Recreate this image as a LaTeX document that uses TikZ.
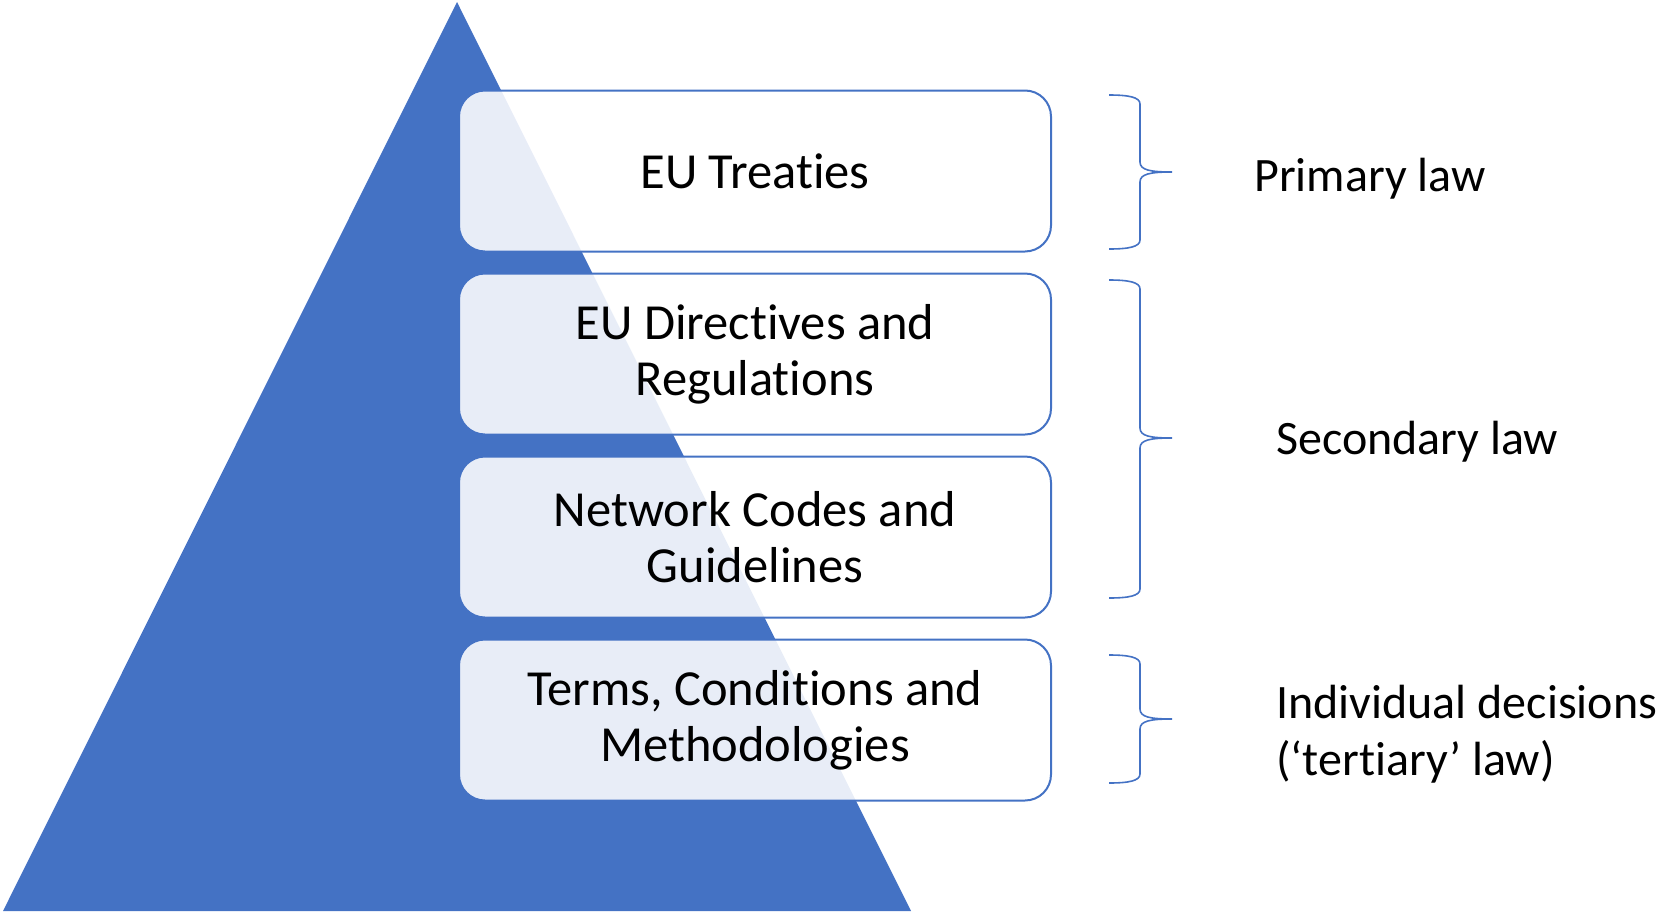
\documentclass[tikz,border=0pt]{standalone}
\usepackage{fontspec}
\setmainfont{Carlito}[Ligatures=NoCommon, RawFeature={-liga;-clig;-calt;-dlig}]
\definecolor{accent}{HTML}{4472C4}
\newcommand\nolig{\kern0pt{}}
\newcommand\lawbrace[4]{% name, top y, mid y, bottom y
  \coordinate (#1top) at (1109,#2);
  \coordinate (#1tip) at (1172,#3);
  \coordinate (#1bot) at (1109,#4);
  \draw[bracestyle] (#1top) .. controls (1128,#2) and (1140,#2+2) .. (1140,#2+9)
    -- (1140,#3-10) .. controls (1140,#3-2) and (1150,#3) .. (#1tip)
    .. controls (1150,#3) and (1140,#3+2) .. (1140,#3+10)
    -- (1140,#4-9) .. controls (1140,#4-2) and (1128,#4) .. (#1bot);
}
\tikzset{
  lawbox/.style={draw=accent, line width=2pt, fill=white, fill opacity=0.88,
    text opacity=1, rounded corners=26pt, minimum width=592pt, minimum height=161pt,
    align=center, inner sep=0pt, font=\fontsize{50.5}{56}\selectfont},
  lawlabel/.style={anchor=west, align=left, inner sep=0pt, font=\fontsize{48}{57}\selectfont},
  bracestyle/.style={draw=accent, line width=1.6pt},
}
\begin{document}
\begin{tikzpicture}[x=1pt,y=-1pt]
\useasboundingbox (0,0) rectangle (1658,911);
\fill[accent] (457,2) -- (911,911) -- (3,911) -- cycle;
\node[lawbox] (b1) at (755,171) {EU Treat\nolig ies};
\node[lawbox] (b2) at (755,354) {EU Direct\nolig ives and\\Regulations};
\node[lawbox] (b3) at (755,537) {Network Codes and\\Guidelines};
\node[lawbox] (b4) at (755,720) {Terms, Conditions and\\Methodologies};
\lawbrace{p}{95}{172}{249}
\lawbrace{s}{280}{438}{598}
\lawbrace{t}{655}{719}{783}
\node[lawlabel] (l1) at (1254,179) {Primary law};
\node[lawlabel] (l2) at (1276,442) {Secondary law};
\node[lawlabel] (l3) at (1276,734) {Individual decisions\\(‘tert\nolig iary’ law)};
\end{tikzpicture}
\end{document}
